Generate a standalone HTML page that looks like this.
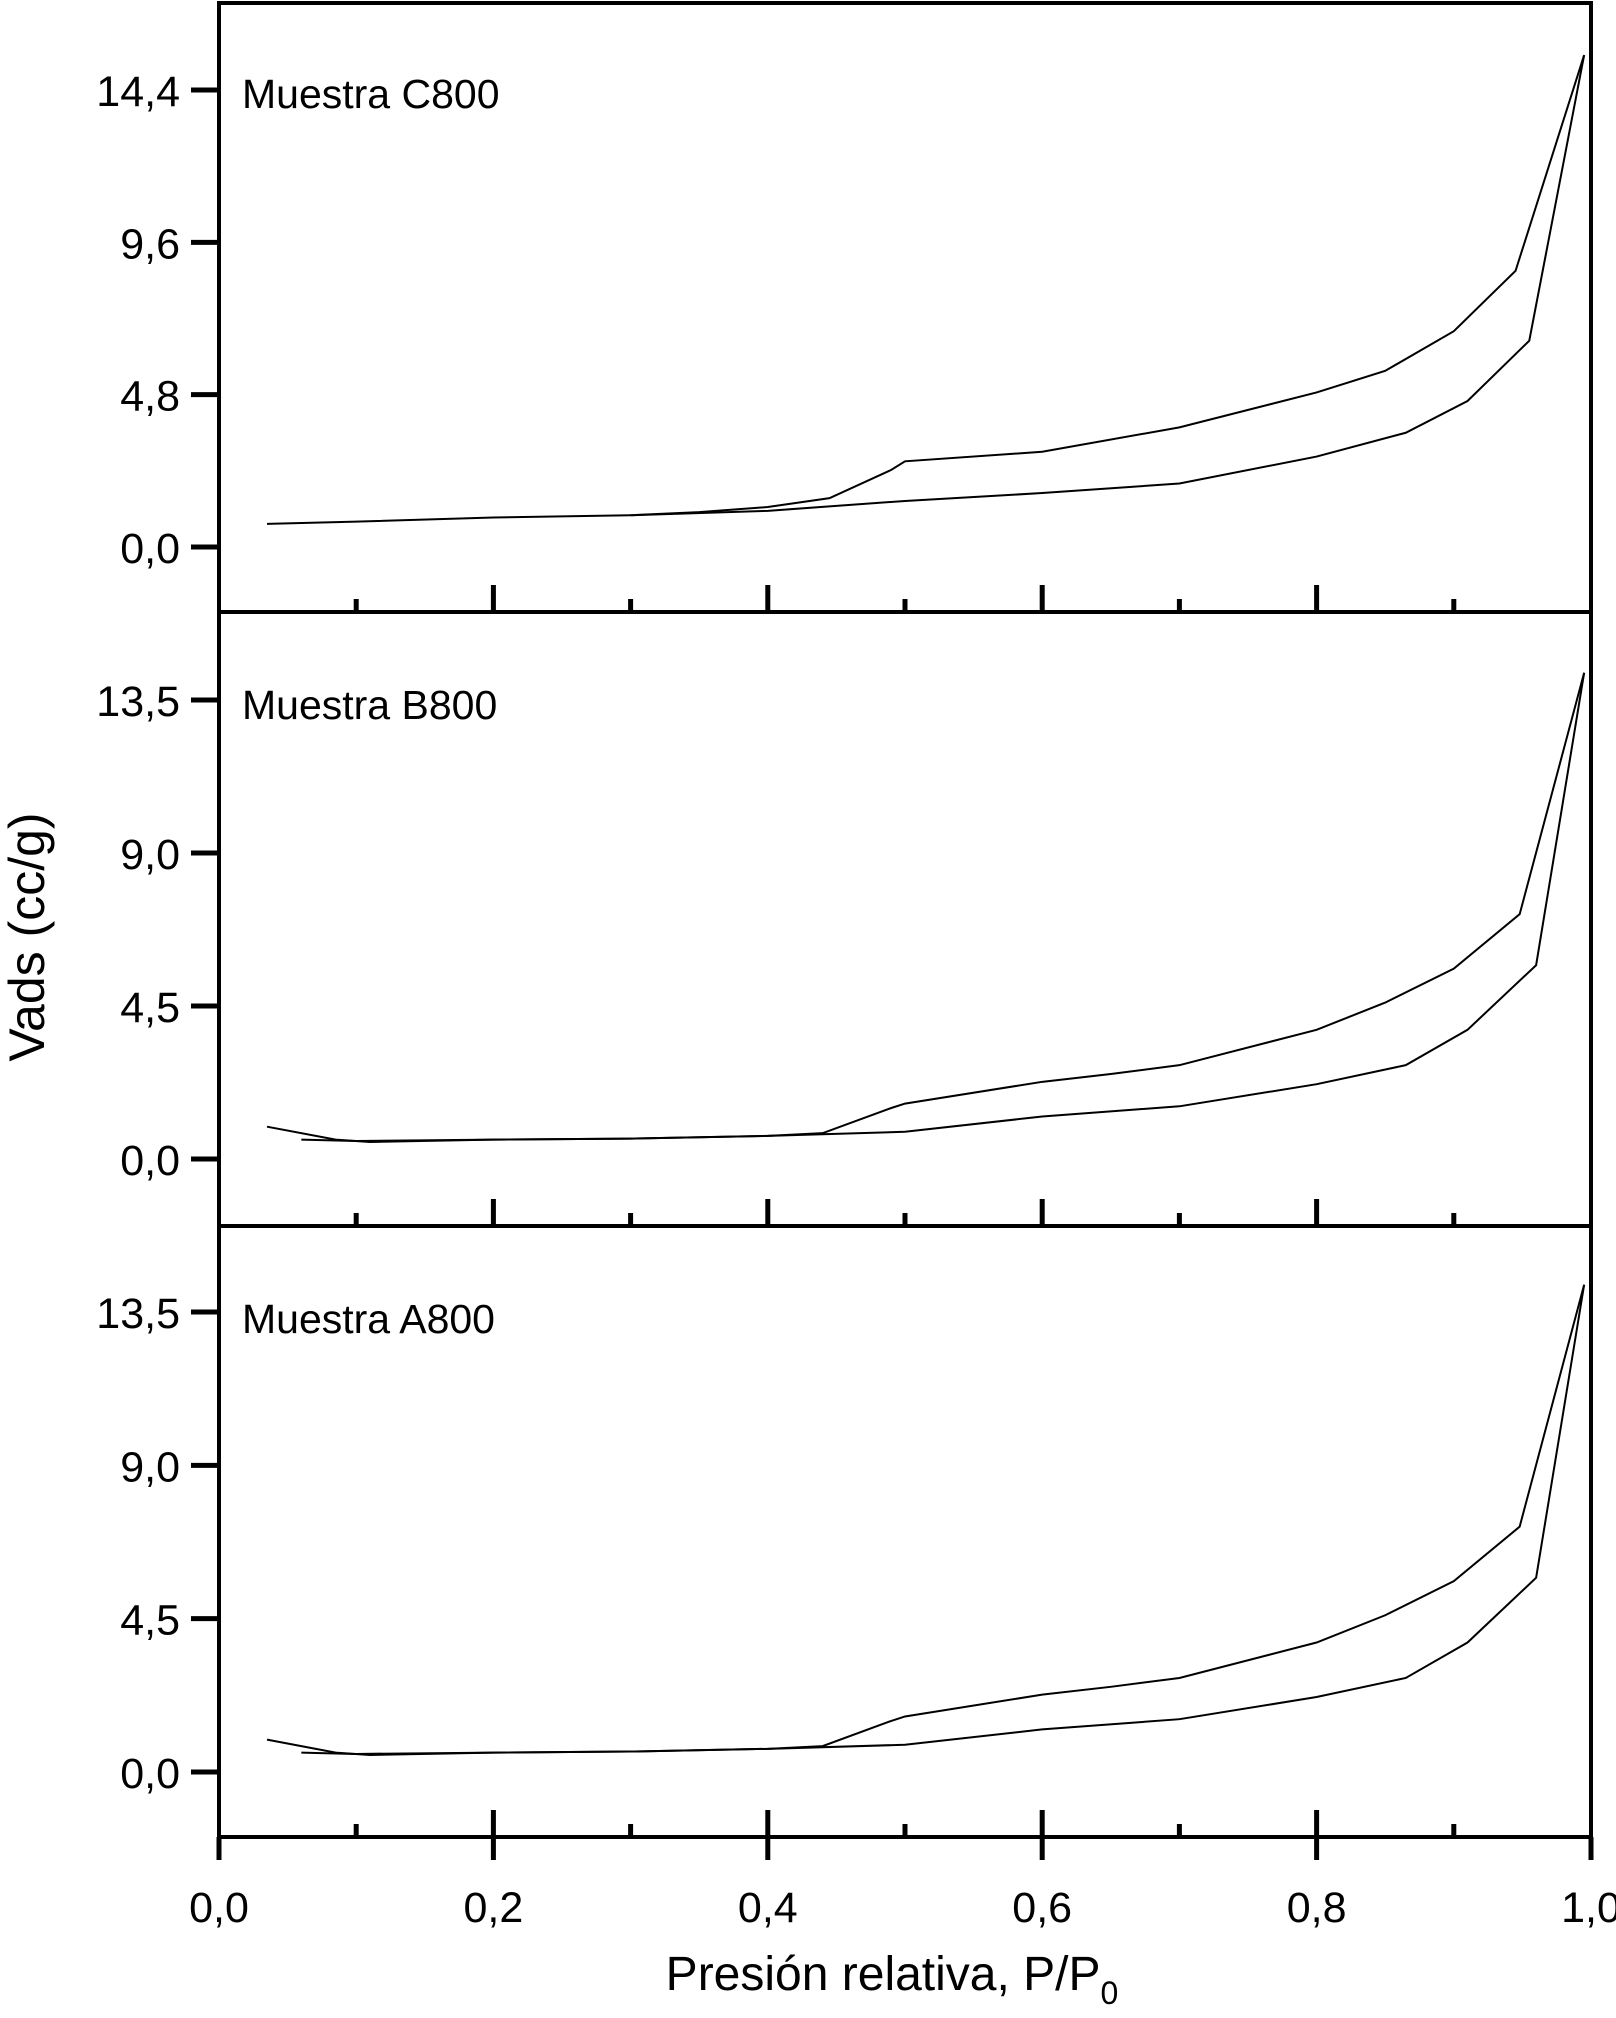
<!DOCTYPE html>
<html><head><meta charset="utf-8"><style>
html,body{margin:0;padding:0;background:#fff;}
svg{display:block;}
text{font-family:"Liberation Sans",Arial,sans-serif;fill:#000;}
</style></head><body>
<svg id="chart" width="1616" height="2018" viewBox="0 0 1616 2018" xmlns="http://www.w3.org/2000/svg">
<g id="root"></g>
</svg>
<script>
// X ticks
const xTickValues = [0,0.1,0.2,0.3,0.4,0.5,0.6,0.7,0.8,0.9,1.0];
const xTickLabels = ["0,0","0,2","0,4","0,6","0,8","1,0"];
// Panel C800
const cTicks = [0,4.8,9.6,14.4];
const cTickLabels = ["0,0","4,8","9,6","14,4"];
const cAdsX = [0.035,0.1,0.2,0.3,0.4,0.5,0.6,0.7,0.8,0.865,0.91,0.955,0.995];
const cAdsY = [0.73,0.8,0.93,1.0,1.14,1.45,1.7,2.0,2.85,3.6,4.6,6.5,15.5];
const cDesX = [0.995,0.945,0.9,0.85,0.8,0.7,0.6,0.5,0.49,0.445,0.4,0.35,0.3];
const cDesY = [15.5,8.7,6.8,5.55,4.87,3.77,3.0,2.7,2.43,1.54,1.26,1.1,1.0];
// Panel B800
const bTicks = [0,4.5,9.0,13.5];
const bTickLabels = ["0,0","4,5","9,0","13,5"];
const bAdsX = [0.06,0.1,0.2,0.3,0.4,0.5,0.6,0.7,0.8,0.865,0.91,0.96,0.995];
const bAdsY = [0.57,0.53,0.57,0.6,0.68,0.8,1.25,1.55,2.2,2.76,3.8,5.7,14.3];
const bDesX = [0.995,0.948,0.9,0.85,0.8,0.7,0.65,0.6,0.5,0.49,0.44,0.4,0.3,0.2,0.11,0.085,0.035];
const bDesY = [14.3,7.2,5.6,4.6,3.8,2.76,2.5,2.27,1.63,1.5,0.76,0.68,0.6,0.57,0.5,0.57,0.95];
// Panel A800
const aTicks = [0,4.5,9.0,13.5];
const aTickLabels = ["0,0","4,5","9,0","13,5"];
const aAdsX = [0.06,0.1,0.2,0.3,0.4,0.5,0.6,0.7,0.8,0.865,0.91,0.96,0.995];
const aAdsY = [0.57,0.53,0.57,0.6,0.68,0.8,1.25,1.55,2.2,2.76,3.8,5.7,14.3];
const aDesX = [0.995,0.948,0.9,0.85,0.8,0.7,0.65,0.6,0.5,0.49,0.44,0.4,0.3,0.2,0.11,0.085,0.035];
const aDesY = [14.3,7.2,5.6,4.6,3.8,2.76,2.5,2.27,1.63,1.5,0.76,0.68,0.6,0.57,0.5,0.57,0.95];

const NS="http://www.w3.org/2000/svg";
const root=document.getElementById('root');
const X0=219,X1=1591;
function sx(v){return X0+(X1-X0)*v;}
function mk(tag,attrs,parent){const e=document.createElementNS(NS,tag);for(const k in attrs)e.setAttribute(k,attrs[k]);(parent||root).appendChild(e);return e;}

const panels=[
 {name:"c800",label:"Muestra C800",top:3,bot:612,y0:547,yTop:90,vTop:14.4,ticks:cTicks,tl:cTickLabels,ax:cAdsX,ay:cAdsY,dx:cDesX,dy:cDesY},
 {name:"b800",label:"Muestra B800",top:612,bot:1226,y0:1159,yTop:700,vTop:13.5,ticks:bTicks,tl:bTickLabels,ax:bAdsX,ay:bAdsY,dx:bDesX,dy:bDesY},
 {name:"a800",label:"Muestra A800",top:1226,bot:1837,y0:1772,yTop:1312,vTop:13.5,ticks:aTicks,tl:aTickLabels,ax:aAdsX,ay:aAdsY,dx:aDesX,dy:aDesY}
];
panels.forEach(p=>{
  const g=mk('g',{});
  
  
  const sy=v=>p.y0-(p.y0-p.yTop)*v/p.vTop;
  const frame=mk('rect',{x:X0,y:p.top,width:X1-X0,height:p.bot-p.top,fill:'none',stroke:'#000','stroke-width':4},g);
  
  
  p.ticks.forEach((t,i)=>{
    const y=sy(t);
    const tk=mk('line',{x1:X0-28,x2:X0,y1:y,y2:y,stroke:'#000','stroke-width':5},g);
    
    
    const tx=mk('text',{x:X0-39,y:y+16,'text-anchor':'end','font-size':43},g);
    tx.textContent=p.tl[i];
    
    
  });
  xTickValues.forEach((v,i)=>{
    if(i===0||i===10)return;
    const major=(i%2===0);
    const tk=mk('line',{x1:sx(v),x2:sx(v),y1:p.bot,y2:p.bot-(major?27:13),stroke:'#000','stroke-width':5},g);
    
    
  });
  const lb=mk('text',{x:242,y:p.top+(p.name==='c800'?105:107),'font-size':41},g);
  lb.textContent=p.label;
  
  
  const ads=mk('polyline',{points:p.ax.map((x,i)=>sx(x)+','+sy(p.ay[i])).join(' '),fill:'none',stroke:'#000','stroke-width':2},g);
  
  
  const des=mk('polyline',{points:p.dx.map((x,i)=>sx(x)+','+sy(p.dy[i])).join(' '),fill:'none',stroke:'#000','stroke-width':2},g);
  
  
});
// bottom x axis labels + major ticks down
xTickValues.forEach((v,i)=>{
  if(i%2!==0)return;
  const tk=mk('line',{x1:sx(v),x2:sx(v),y1:1837,y2:1860,stroke:'#000','stroke-width':5});
  
  
  const tx=mk('text',{x:sx(v),y:1922,'text-anchor':'middle','font-size':43});
  tx.textContent=xTickLabels[i/2];
  
  
});
const xt=mk('text',{x:892,y:1990,'text-anchor':'middle','font-size':48});
xt.innerHTML='Presión relativa, P/P<tspan font-size="32" dy="14">0</tspan>';


const yt=mk('text',{x:0,y:0,'text-anchor':'middle','font-size':50,transform:'translate(44,937) rotate(-90)'});
yt.textContent='Vads (cc/g)';


</script>
</body></html>
